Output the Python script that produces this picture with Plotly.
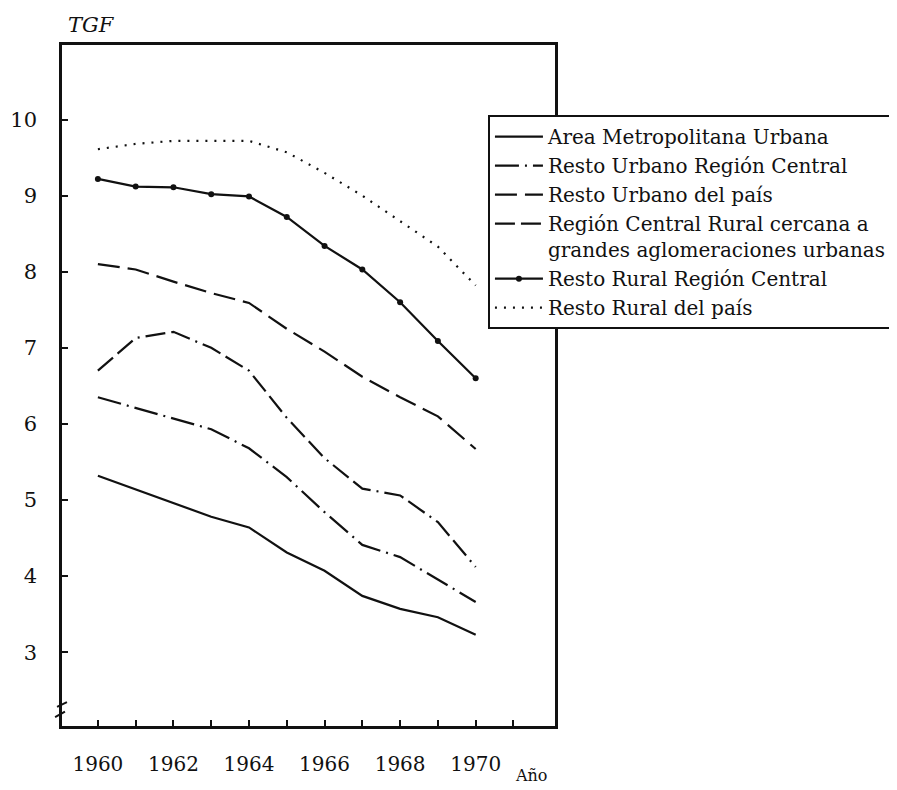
import plotly.graph_objects as go

years = list(range(1960, 1971))

area_metropolitana = [5.32, 5.14, 4.96, 4.78, 4.64, 4.31, 4.07, 3.74, 3.57, 3.46, 3.23]
resto_urbano_central = [6.35, 6.21, 6.06, 5.93, 5.68, 5.30, 4.84, 4.41, 4.25, 3.96, 3.66]
resto_urbano_pais = [8.10, 8.03, 7.87, 7.72, 7.59, 7.25, 6.95, 6.62, 6.35, 6.10, 5.67]
rural_cercana = [6.70, 7.13, 7.21, 7.00, 6.70, 6.08, 5.55, 5.15, 5.06, 4.71, 4.12]
resto_rural_central = [9.22, 9.12, 9.11, 9.02, 8.99, 8.72, 8.34, 8.03, 7.60, 7.09, 6.60]
resto_rural_pais = [9.61, 9.68, 9.72, 9.72, 9.72, 9.57, 9.30, 9.00, 8.66, 8.33, 7.82]

y_ticks = [3, 4, 5, 6, 7, 8, 9, 10]
x_ticks = list(range(1960, 1972))
x_labels = [str(y) if y % 2 == 0 and y <= 1970 else "" for y in x_ticks]

SERIF = "DejaVu Serif"
INK = "#111111"

series = [
    ("Area Metropolitana Urbana", area_metropolitana, "solid", False),
    ("Resto Urbano Región Central", resto_urbano_central, "24px,6px,2px,6px", False),
    ("Resto Urbano del país", resto_urbano_pais, "22px,8px", False),
    ("Región Central Rural cercana a<br>grandes aglomeraciones urbanas", rural_cercana,
     "20px,6px,20px,6px,2px,6px", False),
    ("Resto Rural Región Central", resto_rural_central, "solid", True),
    ("Resto Rural del país", resto_rural_pais, "2px,7px", False),
]

fig = go.Figure()
for name, values, dash, with_markers in series:
    fig.add_trace(
        go.Scatter(
            x=years,
            y=values,
            name=name,
            mode="lines+markers" if with_markers else "lines",
            line=dict(color=INK, width=2.2, dash=dash),
            marker=dict(size=6, color=INK),
        )
    )

# the page body keeps the browser's 8px margin, so the figure is 8px smaller
fig.update_layout(
    width=889,
    height=782,
    paper_bgcolor="white",
    plot_bgcolor="white",
    # the legend runs off the right edge like in the print, so no margin pushing
    margin=dict(l=54, r=342, t=37, b=64, autoexpand=False),
    font=dict(family=SERIF, color=INK, size=20),
    legend=dict(
        x=0.864,
        y=0.897,
        xanchor="left",
        yanchor="top",
        bgcolor="white",
        bordercolor=INK,
        borderwidth=2,
        font=dict(family=SERIF, size=20, color=INK),
        valign="top",
        itemwidth=48,
        tracegroupgap=0,
    ),
    xaxis=dict(
        range=[1959.05, 1972.1],
        tickvals=x_ticks,
        ticktext=x_labels,
        ticks="inside",
        ticklen=6,
        tickwidth=1.5,
        tickcolor=INK,
        showline=True,
        linecolor=INK,
        linewidth=2.5,
        mirror=True,
        showgrid=False,
        zeroline=False,
        automargin=False,
        ticklabelstandoff=18,
        tickfont=dict(size=20),
    ),
    yaxis=dict(
        range=[2.03, 10.98],
        tickvals=y_ticks,
        ticks="inside",
        ticklen=6,
        tickwidth=1.5,
        tickcolor=INK,
        showline=True,
        linecolor=INK,
        linewidth=2.5,
        mirror=True,
        showgrid=False,
        zeroline=False,
        automargin=False,
        ticklabelstandoff=18,
        tickfont=dict(size=21),
    ),
    annotations=[
        dict(text="<i>TGF</i>", xref="paper", yref="paper", x=0.06, y=1.029,
             xanchor="center", yanchor="middle", showarrow=False,
             font=dict(family=SERIF, size=21, color=INK)),
        dict(text="Año", xref="paper", yref="paper", x=0.953, y=-0.072,
             xanchor="center", yanchor="middle", showarrow=False,
             font=dict(family=SERIF, size=16, color=INK)),
    ],
    shapes=[
        dict(type="line", xref="paper", yref="paper", x0=-0.010, y0=0.028, x1=0.010, y1=0.035,
             line=dict(color=INK, width=2)),
        dict(type="line", xref="paper", yref="paper", x0=-0.014, y0=0.013, x1=0.006, y1=0.021,
             line=dict(color=INK, width=2)),
    ],
)

fig.write_html("out.html")
